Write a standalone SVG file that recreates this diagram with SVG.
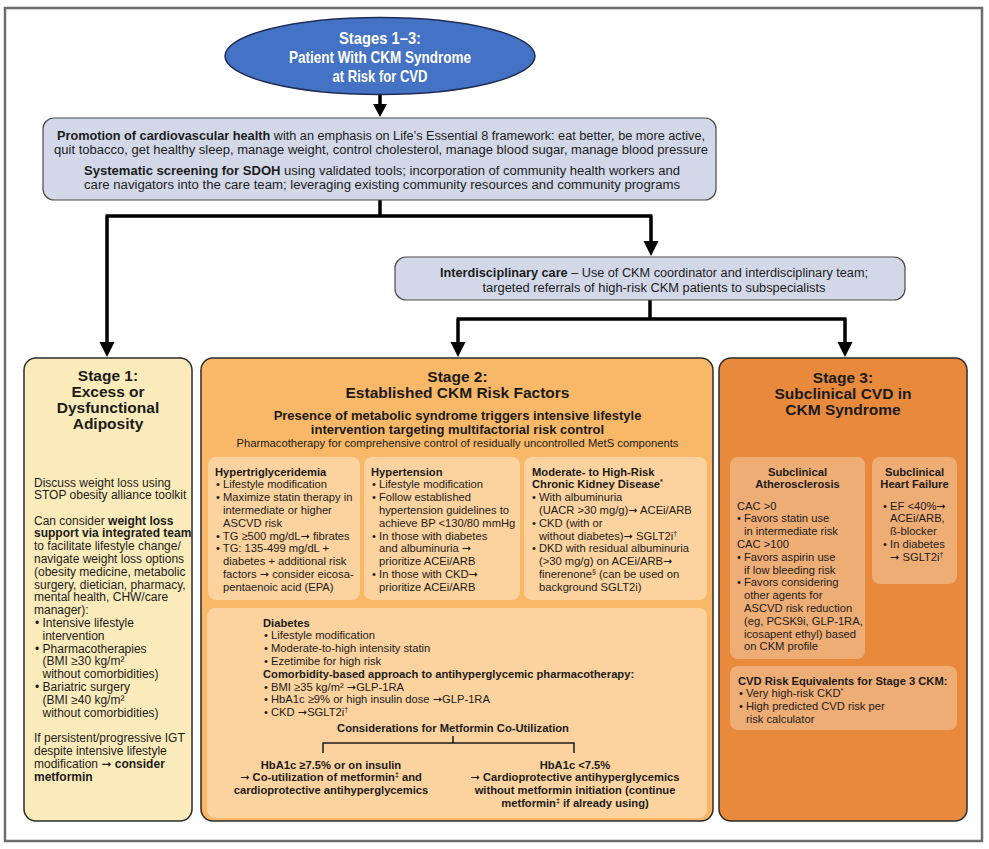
<svg xmlns="http://www.w3.org/2000/svg" width="989" height="849" viewBox="0 0 989 849">
<defs>
<style>
text{font-family:"Liberation Sans",Arial,Helvetica,sans-serif;fill:#1b1b1b}
.b{font-weight:bold}
.ttl{font-size:15.5px;font-weight:bold;text-anchor:middle}
.top{font-size:12.5px;text-anchor:middle}
.s1{font-size:12px}
.s2{font-size:11.2px}
.c{text-anchor:middle}
.ar{font-family:"DejaVu Sans",sans-serif;font-weight:normal}
.lav{fill:#D3D8E8;stroke:#4a4a4a;stroke-width:1.2}
.stage{stroke:#2b2b2b;stroke-width:1.5}
.sub2{fill:#FCD29E}
.sub3{fill:#EFAD76}
.conn{fill:none;stroke:#000;stroke-width:3.5}
.ah{fill:#000}
.wt{fill:#fff;font-weight:bold;font-size:17px;text-anchor:middle}
</style>
</defs>
<rect x="0" y="0" width="989" height="849" fill="#fff"/>
<rect x="5" y="8" width="977" height="833" fill="#fff" stroke="#6d6d6d" stroke-width="2.5"/>

<g id="connectors">
<path class="conn" d="M380,95 V105" stroke-width="3"/>
<polygon class="ah" points="373,104 387,104 380,117"/>
<path class="conn" d="M380,200 V216 M105.5,216 H652.5 M107,216 V343 M651,216 V242"/>
<polygon class="ah" points="99.5,342 114.5,342 107,357"/>
<polygon class="ah" points="643.5,241 658.5,241 651,256"/>
<path class="conn" d="M650,300 V319 M456.5,319 H846.5 M458,319 V343 M845,319 V343"/>
<polygon class="ah" points="450.5,342 465.5,342 458,357"/>
<polygon class="ah" points="837.5,342 852.5,342 845,357"/>
</g>

<g id="start">
<ellipse cx="380" cy="56" rx="155" ry="38.5" fill="#4472C4" stroke="#1f2d55" stroke-width="1.5"/>
<text class="wt" x="380" y="44" textLength="82" lengthAdjust="spacingAndGlyphs">Stages 1–3:</text>
<text class="wt" x="380" y="63" textLength="182" lengthAdjust="spacingAndGlyphs">Patient With CKM Syndrome</text>
<text class="wt" x="380" y="82" textLength="95" lengthAdjust="spacingAndGlyphs">at Risk for CVD</text>
</g>

<g id="promotion">
<rect class="lav" x="43" y="118" width="673" height="82" rx="11"/>
<text class="top" x="381" y="139.5" textLength="648" lengthAdjust="spacingAndGlyphs"><tspan class="b">Promotion of cardiovascular health</tspan> with an emphasis on Life’s Essential 8 framework: eat better, be more active,</text>
<text class="top" x="381" y="153.5" textLength="654" lengthAdjust="spacingAndGlyphs">quit tobacco, get healthy sleep, manage weight, control cholesterol, manage blood sugar, manage blood pressure</text>
<text class="top" x="382" y="174.5" textLength="596" lengthAdjust="spacingAndGlyphs"><tspan class="b">Systematic screening for SDOH</tspan> using validated tools; incorporation of community health workers and</text>
<text class="top" x="382" y="188.5" textLength="596" lengthAdjust="spacingAndGlyphs">care navigators into the care team; leveraging existing community resources and community programs</text>
</g>

<g id="interdisciplinary">
<rect class="lav" x="395" y="257" width="510" height="43" rx="11"/>
<text class="top" x="654" y="277" textLength="428" lengthAdjust="spacingAndGlyphs"><tspan class="b">Interdisciplinary care</tspan> – Use of CKM coordinator and interdisciplinary team;</text>
<text class="top" x="654" y="292" textLength="343" lengthAdjust="spacingAndGlyphs">targeted referrals of high-risk CKM patients to subspecialists</text>
</g>

<g id="stage1">
<rect class="stage" x="24" y="358" width="168" height="463" rx="12" fill="#FBEBBA"/>
<text class="ttl" x="108" y="381">Stage 1:</text>
<text class="ttl" x="108" y="397">Excess or</text>
<text class="ttl" x="108" y="413">Dysfunctional</text>
<text class="ttl" x="108" y="429">Adiposity</text>
<text class="s1" x="34" y="486.5">Discuss weight loss using</text>
<text class="s1" x="34" y="499.3">STOP obesity alliance toolkit</text>
<text class="s1" x="34" y="524.5">Can consider <tspan class="b">weight loss</tspan></text>
<text class="s1 b" x="34" y="537.3">support via integrated team</text>
<text class="s1" x="34" y="550.1">to facilitate lifestyle change/</text>
<text class="s1" x="34" y="562.9">navigate weight loss options</text>
<text class="s1" x="34" y="575.7">(obesity medicine, metabolic</text>
<text class="s1" x="34" y="588.5">surgery, dietician, pharmacy,</text>
<text class="s1" x="34" y="601.3">mental health, CHW/care</text>
<text class="s1" x="34" y="614.1">manager):</text>
<text class="s1" x="35" y="626.9">• Intensive lifestyle</text>
<text class="s1" x="42.5" y="639.7">intervention</text>
<text class="s1" x="35" y="652.5">• Pharmacotherapies</text>
<text class="s1" x="42.5" y="665.3">(BMI ≥30 kg/m²</text>
<text class="s1" x="42.5" y="678.1">without comorbidities)</text>
<text class="s1" x="35" y="690.9">• Bariatric surgery</text>
<text class="s1" x="42.5" y="703.7">(BMI ≥40 kg/m²</text>
<text class="s1" x="42.5" y="716.5">without comorbidities)</text>
<text class="s1" x="34" y="742.1">If persistent/progressive IGT</text>
<text class="s1" x="34" y="754.9">despite intensive lifestyle</text>
<text class="s1" x="34" y="767.7">modification <tspan class="ar">➞</tspan> <tspan class="b">consider</tspan></text>
<text class="s1 b" x="34" y="780.5">metformin</text>
</g>

<g id="stage2">
<rect class="stage" x="201" y="358" width="512" height="463" rx="12" fill="#F9B768"/>
<text class="ttl" x="457.5" y="381.5">Stage 2:</text>
<text class="ttl" x="457.5" y="397.5">Established CKM Risk Factors</text>
<text class="b c" x="457.5" y="420" font-size="13">Presence of metabolic syndrome triggers intensive lifestyle</text>
<text class="b c" x="457.5" y="434" font-size="13">intervention targeting multifactorial risk control</text>
<text class="c" x="457.5" y="446.5" font-size="11.5" textLength="442" lengthAdjust="spacingAndGlyphs">Pharmacotherapy for comprehensive control of residually uncontrolled MetS components</text>
</g>

<g id="hypertriglyceridemia">
<rect class="sub2" x="208" y="457" width="152" height="143" rx="8"/>
<text class="s2 b" x="215" y="475.5">Hypertriglyceridemia</text>
<text class="s2" x="216" y="488.3">• Lifestyle modification</text>
<text class="s2" x="216" y="501.1">• Maximize statin therapy in</text>
<text class="s2" x="223" y="513.9">intermediate or higher</text>
<text class="s2" x="223" y="526.7">ASCVD risk</text>
<text class="s2" x="216" y="539.5">• TG ≥500 mg/dL<tspan class="ar">➞</tspan> fibrates</text>
<text class="s2" x="216" y="552.3">• TG: 135-499 mg/dL +</text>
<text class="s2" x="223" y="565.1">diabetes + additional risk</text>
<text class="s2" x="223" y="577.9">factors <tspan class="ar">➞</tspan> consider eicosa-</text>
<text class="s2" x="223" y="590.7">pentaenoic acid (EPA)</text>
</g>

<g id="hypertension">
<rect class="sub2" x="364" y="457" width="156" height="143" rx="8"/>
<text class="s2 b" x="371" y="475.5">Hypertension</text>
<text class="s2" x="372" y="488.3">• Lifestyle modification</text>
<text class="s2" x="372" y="501.1">• Follow established</text>
<text class="s2" x="379" y="513.9">hypertension guidelines to</text>
<text class="s2" x="379" y="526.7">achieve BP &lt;130/80 mmHg</text>
<text class="s2" x="372" y="539.5">• In those with diabetes</text>
<text class="s2" x="379" y="552.3">and albuminuria <tspan class="ar">➞</tspan></text>
<text class="s2" x="379" y="565.1">prioritize ACEi/ARB</text>
<text class="s2" x="372" y="577.9">• In those with CKD<tspan class="ar">➞</tspan></text>
<text class="s2" x="379" y="590.7">prioritize ACEi/ARB</text>
</g>

<g id="ckd">
<rect class="sub2" x="524" y="457" width="183" height="143" rx="8"/>
<text class="s2 b" x="532" y="475.5">Moderate- to High-Risk</text>
<text class="s2 b" x="532" y="488.3">Chronic Kidney Disease<tspan dy="-4" font-size="7">*</tspan></text>
<text class="s2" x="532" y="501.1">• With albuminuria</text>
<text class="s2" x="539" y="513.9">(UACR &gt;30 mg/g)<tspan class="ar">➞</tspan> ACEi/ARB</text>
<text class="s2" x="532" y="526.7">• CKD (with or</text>
<text class="s2" x="539" y="539.5">without diabetes)<tspan class="ar">➞</tspan> SGLT2i<tspan dy="-4" font-size="7">†</tspan></text>
<text class="s2" x="532" y="552.3">• DKD with residual albuminuria</text>
<text class="s2" x="539" y="565.1">(&gt;30 mg/g) on ACEi/ARB<tspan class="ar">➞</tspan></text>
<text class="s2" x="539" y="577.9">finerenone<tspan dy="-4" font-size="7">§</tspan><tspan dy="4"> (can be used on</tspan></text>
<text class="s2" x="539" y="590.7">background SGLT2i)</text>
</g>

<g id="diabetes">
<rect class="sub2" x="207" y="608" width="500" height="210" rx="8"/>
<text class="s2 b" x="263" y="626.5">Diabetes</text>
<text class="s2" x="264" y="639.3">• Lifestyle modification</text>
<text class="s2" x="264" y="652.1">• Moderate-to-high intensity statin</text>
<text class="s2" x="264" y="664.9">• Ezetimibe for high risk</text>
<text class="s2 b" x="263" y="677.7">Comorbidity-based approach to antihyperglycemic pharmacotherapy:</text>
<text class="s2" x="264" y="690.5">• BMI ≥35 kg/m² <tspan class="ar">➞</tspan>GLP-1RA</text>
<text class="s2" x="264" y="703.3">• HbA1c ≥9% or high insulin dose <tspan class="ar">➞</tspan>GLP-1RA</text>
<text class="s2" x="264" y="716.1">• CKD <tspan class="ar">➞</tspan>SGLT2i<tspan dy="-4" font-size="7">†</tspan></text>
<text class="s2 b c" x="453" y="731.5">Considerations for Metformin Co-Utilization</text>
<path d="M323,753 V743 H574 V753 M453,743 V736" fill="none" stroke="#1b1b1b" stroke-width="1.5"/>
<text class="s2 b c" x="331" y="768.5">HbA1c ≥7.5% or on insulin</text>
<text class="s2 b c" x="331" y="781.3"><tspan class="ar">➞</tspan> Co-utilization of metformin<tspan dy="-4" font-size="7">‡</tspan><tspan dy="4"> and</tspan></text>
<text class="s2 b c" x="331" y="794.1">cardioprotective antihyperglycemics</text>
<text class="s2 b c" x="575" y="768.5">HbA1c &lt;7.5%</text>
<text class="s2 b c" x="575" y="781.3"><tspan class="ar">➞</tspan> Cardioprotective antihyperglycemics</text>
<text class="s2 b c" x="575" y="794.1">without metformin initiation (continue</text>
<text class="s2 b c" x="575" y="806.9">metformin<tspan dy="-4" font-size="7">‡</tspan><tspan dy="4"> if already using)</tspan></text>
</g>

<g id="stage3">
<rect class="stage" x="719" y="358" width="248" height="463" rx="12" fill="#E8893B"/>
<text class="ttl" x="843" y="382.5">Stage 3:</text>
<text class="ttl" x="843" y="398.5">Subclinical CVD in</text>
<text class="ttl" x="843" y="414.5">CKM Syndrome</text>
</g>

<g id="atherosclerosis">
<rect class="sub3" x="730" y="457" width="135" height="202" rx="8"/>
<text class="s2 b c" x="797.5" y="475.5">Subclinical</text>
<text class="s2 b c" x="797.5" y="488.3">Atherosclerosis</text>
<text class="s2" x="737" y="509.5">CAC &gt;0</text>
<text class="s2" x="737" y="522.3">• Favors statin use</text>
<text class="s2" x="744" y="535.1">in intermediate risk</text>
<text class="s2" x="737" y="547.9">CAC &gt;100</text>
<text class="s2" x="737" y="560.7">• Favors aspirin use</text>
<text class="s2" x="744" y="573.5">if low bleeding risk</text>
<text class="s2" x="737" y="586.3">• Favors considering</text>
<text class="s2" x="744" y="599.1">other agents for</text>
<text class="s2" x="744" y="611.9">ASCVD risk reduction</text>
<text class="s2" x="744" y="624.7">(eg, PCSK9i, GLP-1RA,</text>
<text class="s2" x="744" y="637.5">icosapent ethyl) based</text>
<text class="s2" x="744" y="650.3">on CKM profile</text>
</g>

<g id="heart-failure">
<rect class="sub3" x="872" y="457" width="85" height="127" rx="8"/>
<text class="s2 b c" x="914.5" y="475.5">Subclinical</text>
<text class="s2 b c" x="914.5" y="488.3">Heart Failure</text>
<text class="s2" x="883" y="509.5">• EF &lt;40%<tspan class="ar">➞</tspan></text>
<text class="s2" x="890" y="522.3">ACEi/ARB,</text>
<text class="s2" x="890" y="535.1">ß-blocker</text>
<text class="s2" x="883" y="547.9">• In diabetes</text>
<text class="s2" x="890" y="560.7"><tspan class="ar">➞</tspan> SGLT2i<tspan dy="-4" font-size="7">†</tspan></text>
</g>

<g id="risk-equivalents">
<rect class="sub3" x="730" y="666" width="227" height="64" rx="8"/>
<text class="s2 b" x="738" y="684.5">CVD Risk Equivalents for Stage 3 CKM:</text>
<text class="s2" x="739" y="697.3">• Very high-risk CKD<tspan dy="-4" font-size="7">*</tspan></text>
<text class="s2" x="739" y="710.1">• High predicted CVD risk per</text>
<text class="s2" x="746" y="722.9">risk calculator</text>
</g>
</svg>
